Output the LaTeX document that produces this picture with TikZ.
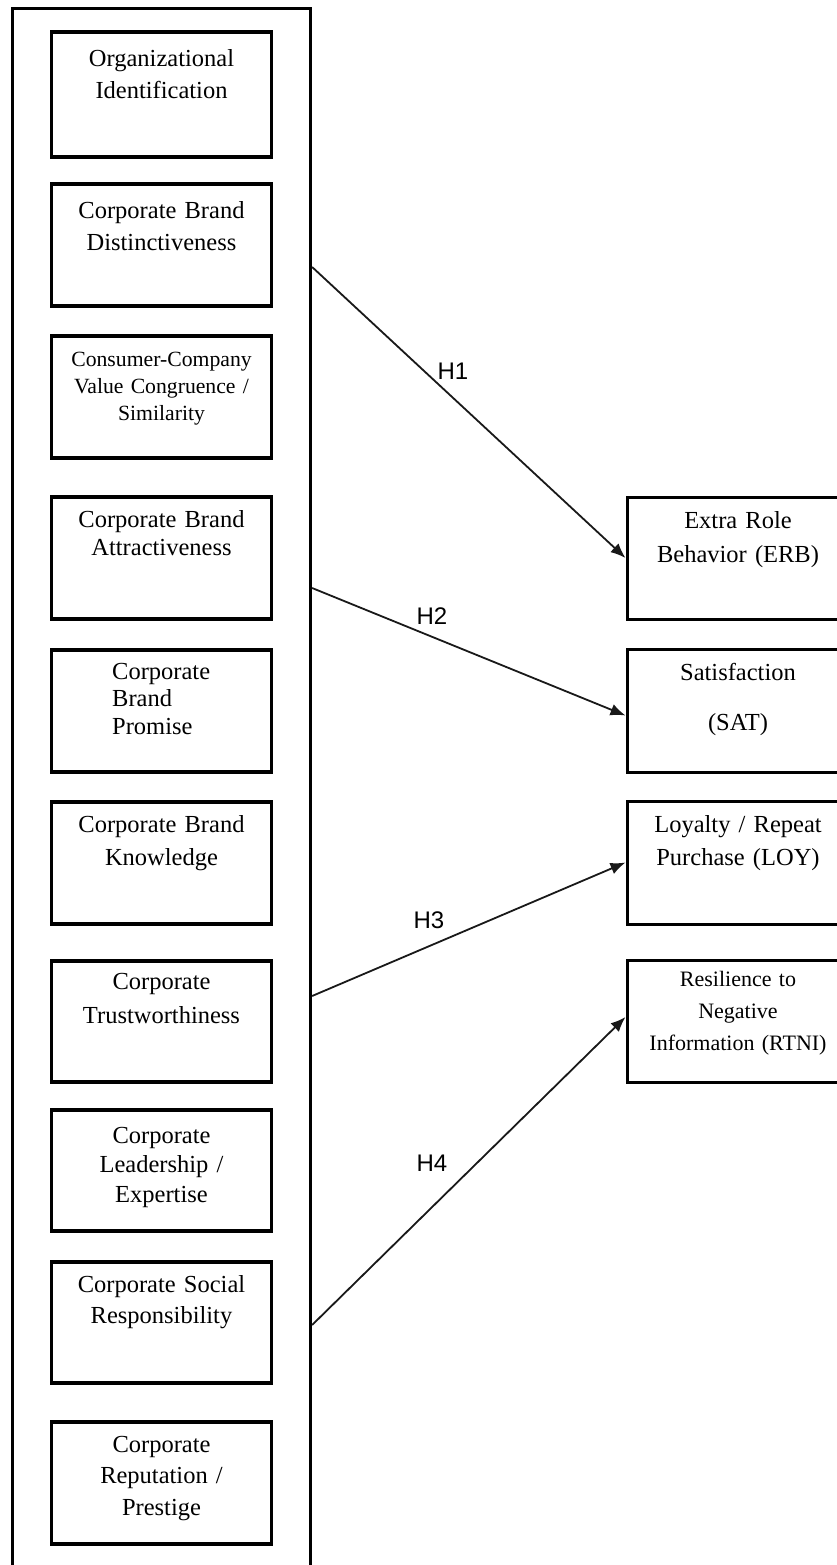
\documentclass[tikz,border=0pt]{standalone}
\usepackage{fontspec}
\setmainfont{Liberation Serif}
\newfontfamily\labfont{Liberation Sans}
\usetikzlibrary{arrows.meta}
\begin{document}
\begin{tikzpicture}[x=1pt,y=-1pt,
  outerbox/.style={draw=black, line width=3.2pt, minimum width=298pt, minimum height=1572pt, inner sep=0pt},
  lbox/.style={draw=black, line width=3.2pt, minimum width=220pt, inner sep=0pt},
  rbox/.style={draw=black, line width=3pt, minimum width=222pt, inner sep=0pt},
  txt/.style={inner sep=0pt, align=center, text width=215pt, anchor=north},
  big/.style={font=\fontsize{24.5pt}{#1}\selectfont},
  small/.style={font=\fontsize{21.7pt}{#1}\selectfont},
  hyp/.style={font=\labfont\fontsize{24pt}{28pt}\selectfont, inner sep=0pt},
  arr/.style={line width=1.8pt, draw=black!90, -{Latex[length=15pt,width=12pt]}}
]
\useasboundingbox (0,0) rectangle (836,1565);
\fill[white] (0,0) rectangle (836,1565);

% outer container
\node[outerbox] (outer) at (161.5,794.7) {};

% left boxes
\node[lbox, minimum height=125pt] (b1) at (161.5,94.5) {};
\node[lbox, minimum height=122pt] (b2) at (161.5,245) {};
\node[lbox, minimum height=122pt] (b3) at (161.5,397) {};
\node[lbox, minimum height=122pt] (b4) at (161.5,558) {};
\node[lbox, minimum height=122pt] (b5) at (161.5,711) {};
\node[lbox, minimum height=122pt] (b6) at (161.5,863) {};
\node[lbox, minimum height=121pt] (b7) at (161.5,1021.5) {};
\node[lbox, minimum height=121pt] (b8) at (161.5,1170.5) {};
\node[lbox, minimum height=121pt] (b9) at (161.5,1322.5) {};
\node[lbox, minimum height=122pt] (b10) at (161.5,1483) {};

\node[txt, big=31.6pt] (t1) at (161.5,44.6) {\strut Organizational\\Identification};
\node[txt, big=32pt] (t2) at (161.5,195.6) {\strut Corporate Brand\\Distinctiveness};
\node[txt, small=27pt] (t3) at (161.5,347.8) {\strut Consumer-Company\\Value Congruence /\\Similarity};
\node[txt, big=28pt] (t4) at (161.5,507.4) {\strut Corporate Brand\\Attractiveness};
\node[inner sep=0pt, align=left, anchor=north west, big=27.5pt] (t5) at (112,659.75) {\strut Corporate\\Brand\\Promise};
\node[txt, big=33pt] (t6) at (161.5,808.9) {\strut Corporate Brand\\Knowledge};
\node[txt, big=34pt] (t7) at (161.5,965.2) {\strut Corporate\\Trustworthiness};
\node[txt, big=29.5pt] (t8) at (161.5,1122.35) {\strut Corporate\\Leadership /\\Expertise};
\node[txt, big=31pt] (t9) at (161.5,1270.3) {\strut Corporate Social\\Responsibility};
\node[txt, big=31.5pt] (t10) at (161.5,1429.95) {\strut Corporate\\Reputation /\\Prestige};

% right boxes
\node[rbox, minimum height=122pt] (erb) at (738,558) {};
\node[rbox, minimum height=123pt] (sat) at (738,710.5) {};
\node[rbox, minimum height=123pt] (loy) at (738,862.5) {};
\node[rbox, minimum height=122pt] (rtni) at (738,1021) {};

\node[txt, big=34pt] (terb) at (738,504.2) {\strut Extra Role\\Behavior (ERB)};
\node[txt, big=50pt] (tsat) at (738,645) {\strut Satisfaction\\(SAT)};
\node[txt, big=33pt] (tloy) at (738,808.9) {\strut Loyalty / Repeat\\Purchase (LOY)};
\node[txt, font=\fontsize{22pt}{32pt}\selectfont] (trtni) at (738,964.3) {\strut Resilience to\\Negative\\Information (RTNI)};

% connector start points on the container
\coordinate (s1) at (outer.east |- 0,267);
\coordinate (s2) at (outer.east |- 0,588);
\coordinate (s3) at (outer.east |- 0,996);
\coordinate (s4) at (outer.east |- 0,1325);

\draw[arr] (s1) -- (erb.west);
\draw[arr] (s2) -- ([yshift=-5pt]sat.west);
\draw[arr] (s3) -- (loy.west);
\draw[arr] (s4) -- ([yshift=4pt]rtni.west);

\node[hyp] (h1) at (453,371) {H1};
\node[hyp] (h2) at (432,616) {H2};
\node[hyp] (h3) at (429,920) {H3};
\node[hyp] (h4) at (432,1163) {H4};
\end{tikzpicture}
\end{document}
